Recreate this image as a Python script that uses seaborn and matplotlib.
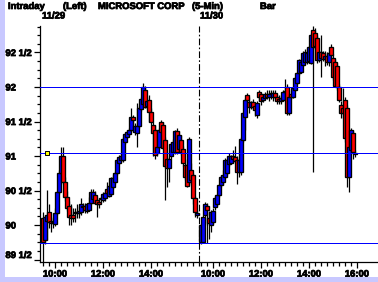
import numpy as np
import pandas as pd
import matplotlib
matplotlib.use("Agg")
import matplotlib.pyplot as plt
import matplotlib.transforms as mtransforms
import matplotlib.patheffects as pe
from matplotlib.patches import Rectangle
import seaborn as sns

# ---------------- data (5-min bars, MSFT 11/29 and 11/30) ----------------
day1_open = [90.10, 89.78, 90.06, 90.19, 90.06, 90.03, 90.01, 90.17, 90.48, 90.75,
             91.00, 90.62, 90.40, 90.28, 90.15, 90.14, 90.17, 90.18, 90.18, 90.19,
             90.27, 90.28, 90.20, 90.22, 90.32, 90.38, 90.43, 90.36, 90.34, 90.38,
             90.36, 90.39, 90.52, 90.42, 90.45, 90.55, 90.62, 90.75, 90.90, 90.94,
             90.94, 91.20, 91.28, 91.32, 91.38, 91.56, 91.35, 91.33, 91.43, 91.68,
             91.75, 91.96, 91.72, 91.81, 91.64, 91.45, 91.38, 91.05, 91.13, 91.49,
             91.45, 91.23, 90.95, 90.83, 91.00, 91.06, 91.06, 91.36, 91.10, 91.23,
             91.10, 90.87, 90.87, 90.62, 90.80, 90.72, 90.39, 90.14]
day1_high = [90.19, 90.15, 90.51, 90.30, 90.12, 90.10, 90.25, 90.50, 90.80, 91.13,
             91.13, 90.70, 90.50, 90.35, 90.30, 90.25, 90.25, 90.30, 90.28, 90.39,
             90.32, 90.32, 90.32, 90.40, 90.52, 90.52, 90.50, 90.40, 90.38, 90.41,
             90.48, 90.50, 90.62, 90.58, 90.70, 90.72, 90.78, 90.96, 91.02, 91.05,
             91.28, 91.34, 91.38, 91.40, 91.70, 91.60, 91.48, 91.77, 91.72, 91.85,
             92.06, 92.02, 91.85, 91.88, 91.70, 91.50, 91.45, 91.20, 91.40, 91.52,
             91.50, 91.28, 91.00, 91.00, 91.20, 91.25, 91.38, 91.40, 91.36, 91.30,
             91.15, 90.95, 90.90, 91.28, 90.90, 90.75, 90.42, 90.22]
day1_low = [89.46, 89.72, 89.78, 89.95, 89.90, 89.95, 89.98, 90.15, 90.45, 90.70,
            90.60, 90.35, 90.20, 90.00, 90.00, 90.05, 90.05, 90.10, 90.10, 90.15,
            90.20, 90.18, 90.18, 90.20, 90.30, 90.35, 90.30, 90.12, 90.25, 90.33,
            90.33, 90.35, 90.45, 90.40, 90.43, 90.52, 90.60, 90.73, 90.88, 90.92,
            90.92, 91.18, 91.26, 91.30, 91.36, 91.35, 91.30, 91.13, 91.40, 91.65,
            91.72, 91.70, 91.68, 91.50, 91.45, 91.00, 90.95, 91.00, 91.10, 91.30,
            91.10, 90.36, 90.55, 90.62, 90.95, 91.03, 91.03, 91.03, 91.05, 91.02,
            90.85, 90.65, 90.55, 90.58, 90.60, 90.30, 90.12, 90.10]
day1_close = [89.75, 90.12, 90.15, 90.04, 90.03, 90.04, 90.17, 90.48, 90.75, 91.00,
              90.62, 90.40, 90.25, 90.12, 90.10, 90.10, 90.18, 90.19, 90.20, 90.30,
              90.26, 90.22, 90.30, 90.32, 90.48, 90.48, 90.32, 90.31, 90.31, 90.38,
              90.45, 90.46, 90.47, 90.56, 90.68, 90.68, 90.75, 90.94, 90.98, 91.00,
              91.25, 91.32, 91.35, 91.38, 91.57, 91.52, 91.43, 91.43, 91.70, 91.82,
              92.00, 91.71, 91.80, 91.64, 91.49, 91.33, 91.01, 91.13, 91.38, 91.35,
              91.12, 90.85, 90.83, 90.96, 91.17, 91.20, 91.36, 91.06, 91.30, 91.06,
              90.90, 90.70, 90.57, 91.25, 90.65, 90.39, 90.19, 90.18]

day2_open = [89.75, 89.76, 90.15, 90.27, 90.10, 90.00, 90.05, 90.26, 90.30, 90.43,
             90.58, 90.62, 90.70, 90.75, 90.88, 90.90, 91.00, 90.98, 90.94, 90.77,
             90.77, 91.23, 91.57, 91.88, 91.78, 91.71, 91.78, 91.72, 91.60, 91.93,
             91.90, 91.81, 91.84, 91.90, 91.86, 91.90, 91.86, 91.91, 91.86, 91.83,
             91.80, 91.81, 91.93, 92.00, 91.63, 91.90, 91.86, 91.96, 92.06, 92.20,
             92.22, 92.32, 92.36, 92.36, 92.38, 92.35, 92.83, 92.78, 92.71, 92.39,
             92.50, 92.49, 92.40, 92.45, 92.36, 92.58, 92.42, 92.36, 92.30, 92.00,
             91.74, 91.70, 91.81, 91.70, 90.70, 91.09, 91.33, 91.03]
day2_high = [90.02, 90.15, 90.33, 90.32, 90.20, 90.22, 90.25, 90.42, 90.45, 90.60,
             90.72, 90.80, 90.97, 90.96, 91.05, 91.02, 91.08, 91.15, 91.00, 90.96,
             91.28, 91.64, 91.84, 91.92, 91.86, 91.80, 91.82, 91.75, 91.80, 91.96,
             91.92, 91.90, 91.93, 91.96, 91.95, 91.96, 91.96, 91.96, 91.90, 91.88,
             91.88, 91.95, 92.12, 92.05, 91.90, 91.95, 92.00, 92.15, 92.22, 92.40,
             92.40, 92.52, 92.55, 92.56, 92.60, 92.78, 92.88, 92.85, 92.75, 92.52,
             92.75, 92.52, 92.52, 92.50, 92.50, 92.62, 92.48, 92.40, 92.35, 92.05,
             91.80, 91.98, 91.85, 91.74, 91.15, 91.40, 91.38, 91.08]
day2_low = [89.73, 89.74, 90.00, 89.74, 89.80, 89.90, 90.02, 90.22, 90.28, 90.40,
            90.55, 90.58, 90.68, 90.73, 90.85, 90.88, 90.92, 90.90, 90.60, 90.70,
            90.73, 91.20, 91.38, 91.78, 91.62, 91.68, 91.67, 91.58, 91.55, 91.80,
            91.74, 91.78, 91.82, 91.82, 91.80, 91.82, 91.80, 91.82, 91.76, 91.75,
            91.76, 91.80, 91.90, 91.60, 91.60, 91.82, 91.84, 91.94, 92.04, 92.18,
            92.20, 92.30, 92.33, 92.33, 92.35, 92.33, 90.77, 92.55, 92.35, 92.36,
            92.14, 92.38, 92.30, 92.32, 92.30, 92.42, 92.10, 92.00, 91.95, 91.78,
            91.55, 91.55, 91.20, 90.55, 90.48, 91.05, 90.95, 90.98]
day2_close = [90.00, 90.12, 90.30, 90.22, 90.03, 90.19, 90.20, 90.39, 90.43, 90.58,
              90.70, 90.72, 90.94, 90.94, 91.00, 91.00, 90.96, 90.93, 90.77, 90.94,
              91.25, 91.62, 91.81, 91.81, 91.71, 91.78, 91.71, 91.67, 91.77, 91.86,
              91.80, 91.86, 91.90, 91.86, 91.90, 91.91, 91.91, 91.86, 91.80, 91.80,
              91.84, 91.93, 91.94, 91.62, 91.86, 91.86, 91.98, 92.13, 92.20, 92.39,
              92.36, 92.49, 92.50, 92.49, 92.58, 92.75, 92.58, 92.60, 92.39, 92.50,
              92.42, 92.40, 92.45, 92.36, 92.49, 92.46, 92.15, 92.02, 92.00, 91.81,
              91.62, 91.62, 91.26, 90.70, 91.13, 91.38, 91.06, 91.05]

level_lines = [92.0, 91.04, 89.74]
last_level_marker = 91.04
day_labels = ["11/29", "11/30"]
time_labels = ["10:00", "12:00", "14:00", "10:00", "12:00", "14:00", "16:00"]
y_major = [89.5, 90.0, 90.5, 91.0, 91.5, 92.0, 92.5]
y_labels = ["89 1/2", "90", "90 1/2", "91", "91 1/2", "92", "92 1/2"]

# ---------------- build table ----------------
n = len(day1_open)
gap = 1
df = pd.DataFrame({
    "x": np.concatenate([np.arange(n), np.arange(n) + n + gap]),
    "open": day1_open + day2_open,
    "high": day1_high + day2_high,
    "low": day1_low + day2_low,
    "close": day1_close + day2_close,
})
df["bottom"] = df[["open", "close"]].min(axis=1)
df["height"] = (df["close"] - df["open"]).abs().clip(lower=0.012)
df["color"] = np.where(df["close"] >= df["open"], "#0000ff", "#ff0000")

day_sep = n
tick_pos = [6, 30, 54, n + gap + 6, n + gap + 30, n + gap + 54, n + gap + 78]

# ---------------- style ----------------
sns.set_theme(style="white")
plt.rcParams["font.family"] = ["Liberation Sans", "DejaVu Sans"]
plt.rcParams["font.weight"] = "bold"
plt.rcParams["font.size"] = 6.8

heavy = [pe.withStroke(linewidth=0.55, foreground="black")]

W, H = 378, 282
fig = plt.figure(figsize=(W / 100, H / 100), dpi=100)
fig.patch.set_facecolor("white")
fig.patches.append(Rectangle((0, 0), 5 / W, 1, transform=fig.transFigure,
                             facecolor="#c8c8ff", edgecolor="none", zorder=0))
fig.patches.append(Rectangle((0, 0), 1, 5 / H, transform=fig.transFigure,
                             facecolor="#c8c8ff", edgecolor="none", zorder=0))

ax = fig.add_axes([40 / W, 20 / H, (W - 40) / W, 236 / H])
ax.set_facecolor("white")

# wicks
ax.vlines(df["x"], df["low"], df["high"], color="black", linewidth=0.9, zorder=2)
# bodies
ax.bar(df["x"], df["height"], bottom=df["bottom"], width=1.8,
       color=df["color"], edgecolor="black", linewidth=0.95, zorder=3)

# level lines
for lv in level_lines:
    ax.axhline(lv, color="#0000ff", linewidth=0.68, zorder=4, snap=True,
               antialiased=False)

# session separator
ax.axvline(day_sep, color="black", linewidth=0.8,
           linestyle=(0, (6, 2, 1.5, 2)), zorder=4)

# last price marker
sns.scatterplot(x=[2], y=[last_level_marker], marker="s", s=12,
                color="yellow", edgecolor="black", linewidth=0.7, ax=ax, zorder=5)

ax.set_xlim(-1.5, 167.5)
ax.set_ylim(89.464, 92.884)

sns.despine(ax=ax, top=True, right=True)
for sp in ["left", "bottom"]:
    ax.spines[sp].set_color("black")
    ax.spines[sp].set_linewidth(0.9)

# x ticks
ax.set_xticks(tick_pos)
ax.set_xticklabels(time_labels, fontweight="bold", fontsize=6.8)
minor_x = list(range(0, n + 1, 3)) + [n + gap + k for k in range(0, n + 1, 3)]
ax.set_xticks(minor_x, minor=True)
ax.tick_params(axis="x", which="major", direction="out", length=4, width=0.9,
               pad=1.5, colors="black", bottom=True)
ax.tick_params(axis="x", which="minor", direction="out", length=3, width=0.9,
               colors="black", bottom=True)

# y ticks
ax.set_yticks(y_major)
ax.set_yticklabels(y_labels, fontweight="bold", fontsize=6.8)
ax.set_yticks(np.arange(89.5, 92.9, 0.125), minor=True)
ax.tick_params(axis="y", which="major", direction="out", length=4, width=0.9,
               pad=29 * 0.72, colors="black", left=True)
ax.tick_params(axis="y", which="minor", direction="out", length=2.5, width=0.9,
               colors="black", left=True)
for lbl in ax.get_yticklabels() + ax.get_xticklabels():
    lbl.set_path_effects(heavy)
for lbl in ax.get_yticklabels():
    lbl.set_horizontalalignment("left")
ylbls = ax.get_yticklabels()
ylbls[0].set_transform(ylbls[0].get_transform() +
                       mtransforms.ScaledTranslation(0, 5 / 100, fig.dpi_scale_trans))
ax.grid(False)

# header texts
def px(x, y):
    return x / W, 1 - y / H

hdr = dict(ha="left", va="center", fontsize=6.8, fontweight="bold", color="black",
           path_effects=heavy)
fig.text(*px(8, 6.5), "Intraday", **hdr)
fig.text(*px(63, 6.5), "(Left)", **hdr)
fig.text(*px(98, 6.5), "MICROSOFT CORP", **hdr)
fig.text(*px(192, 6.5), "(5-Min)", **hdr)
fig.text(*px(260, 6.5), "Bar", **hdr)
fig.text(*px(42, 16), day_labels[0], **hdr)
fig.text(*px(200, 16), day_labels[1], **hdr)

fig.savefig("out.png", dpi=100, facecolor="white")
